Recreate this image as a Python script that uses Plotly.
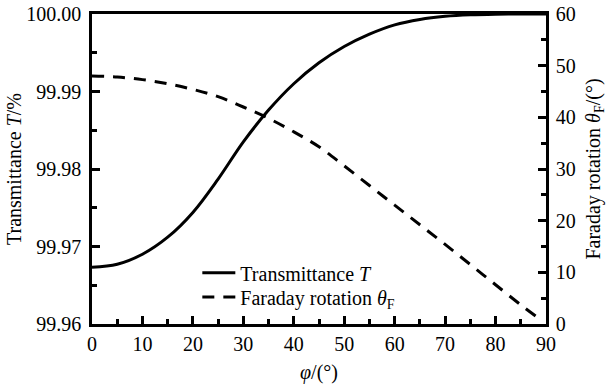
import plotly.graph_objects as go

# Data
phi_T = [0, 5, 10, 15, 20, 25, 30, 35, 40, 45, 50, 55, 60, 65, 70, 75, 80, 85, 90]
transmittance = [99.96732, 99.96770, 99.96900, 99.97120, 99.97440, 99.97870, 99.98350,
                 99.98760, 99.99100, 99.99370, 99.99580, 99.99740, 99.99860, 99.99930,
                 99.99970, 99.99990, 99.99998, 100.00000, 100.00000]

phi_F = [0, 5, 10, 15, 20, 25, 30, 35, 40, 45, 50, 55, 60, 65, 70, 75, 80, 85, 88]
faraday = [48.0, 47.8, 47.3, 46.5, 45.4, 44.0, 42.0, 39.8, 37.2, 34.3, 30.6, 26.8,
           23.0, 19.2, 15.4, 11.5, 7.6, 3.7, 1.5]

x_ticks = [0, 10, 20, 30, 40, 50, 60, 70, 80, 90]
yl_ticks = [99.96, 99.97, 99.98, 99.99, 100.00]
yl_text = ["99.96", "99.97", "99.98", "99.99", "100.00"]
yr_ticks = [0, 10, 20, 30, 40, 50, 60]

FONT = "Liberation Serif"
FS = 20

fig = go.Figure()
fig.add_trace(go.Scatter(
    x=phi_T, y=transmittance, mode="lines", line_shape="spline",
    name="Transmittance <i>T</i>", legend="legend",
    line=dict(color="black", width=3), yaxis="y"))
fig.add_trace(go.Scatter(
    x=phi_F, y=faraday, mode="lines", line_shape="spline",
    name="Faraday rotation <i>θ</i><sub>F</sub>", legend="legend2",
    line=dict(color="black", width=3, dash="12px,9px"), yaxis="y2"))

axis_common = dict(
    showline=True, linecolor="black", linewidth=2.5,
    ticks="inside", ticklen=8, tickwidth=2.5, tickcolor="black",
    showgrid=False, zeroline=False, automargin=False,
    tickfont=dict(family=FONT, size=FS, color="black"),
)
minor_common = dict(ticks="inside", ticklen=5, tickwidth=2.5, tickcolor="black")

legend_common = dict(xanchor="left", yanchor="middle", bgcolor="rgba(0,0,0,0)",
                     font=dict(family=FONT, size=FS, color="black"), itemwidth=33,
                     borderwidth=0)

fig.update_layout(
    width=607, height=387,
    margin=dict(l=92, r=61, t=14, b=63),
    paper_bgcolor="white", plot_bgcolor="white",
    font=dict(family=FONT, size=FS, color="black"),
    showlegend=True,
    legend=dict(x=0.232, y=0.165, **legend_common),
    legend2=dict(x=0.232, y=0.087, **legend_common),
    xaxis=dict(**axis_common, range=[0, 90], tickvals=x_ticks, mirror=True,
               minor=dict(dtick=5, **minor_common),
               title=dict(text="<i>φ</i>/(°)", standoff=12,
                          font=dict(family=FONT, size=FS))),
    yaxis=dict(**axis_common, range=[99.96, 100.00], tickvals=yl_ticks, ticktext=yl_text,
               ticklabelstandoff=4,
               minor=dict(dtick=0.005, **minor_common),
               title=dict(text="Transmittance <i>T</i>/%", standoff=0,
                          font=dict(family=FONT, size=FS))),
    yaxis2=dict(**axis_common, range=[0, 60], tickvals=yr_ticks, overlaying="y", side="right",
                ticklabelstandoff=3,
                minor=dict(dtick=5, **minor_common),
                title=dict(text="Faraday rotation <i>θ</i><sub>F</sub>/(°)", standoff=12,
                           font=dict(family=FONT, size=FS))),
)

fig.write_html("out.html")
